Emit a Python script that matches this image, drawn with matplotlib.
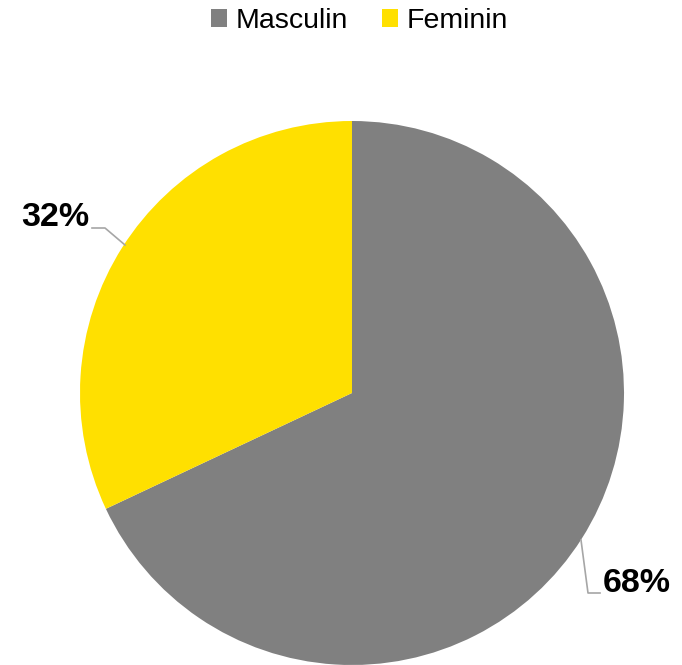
import matplotlib
matplotlib.use("Agg")
import matplotlib.pyplot as plt
from matplotlib.patches import Patch

plt.rcParams['font.family'] = ['Liberation Sans', 'DejaVu Sans']

categories = ["Masculin", "Feminin"]
values = [68, 32]
colors = ["#808080", "#FFE000"]

W, H = 682, 665
fig = plt.figure(figsize=(W / 100, H / 100), dpi=100)
ax = fig.add_axes([0, 0, 1, 1])

cx, cy, r = 352, H - 393, 272
ax.pie(values, colors=colors, startangle=90, counterclock=False,
       center=(cx, cy), radius=r, frame=True,
       wedgeprops=dict(linewidth=0))
ax.set_xlim(0, W)
ax.set_ylim(0, H)
ax.set_aspect('equal')
ax.axis('off')

# data labels with leader lines
line_kw = dict(color="#A6A6A6", lw=1.2)
ax.plot([92, 105, 125], [H - 228, H - 228, H - 245], **line_kw)
ax.text(89, H - 218, f"{values[1]}%", ha='right', va='center',
        fontsize=24.5, fontweight='bold')
ax.plot([581, 588, 600], [H - 540, H - 593, H - 593], **line_kw)
ax.text(603, H - 583, f"{values[0]}%", ha='left', va='center',
        fontsize=24.5, fontweight='bold')

handles = [Patch(facecolor=c, edgecolor='none') for c in colors]
fig.legend(handles, categories, loc='center', bbox_to_anchor=(0.527, 1 - 21 / H),
           ncol=2, frameon=False, fontsize=20.5, handlelength=0.55, handleheight=0.55,
           handletextpad=0.3, columnspacing=1.2)

fig.savefig("out.png", dpi=100)
